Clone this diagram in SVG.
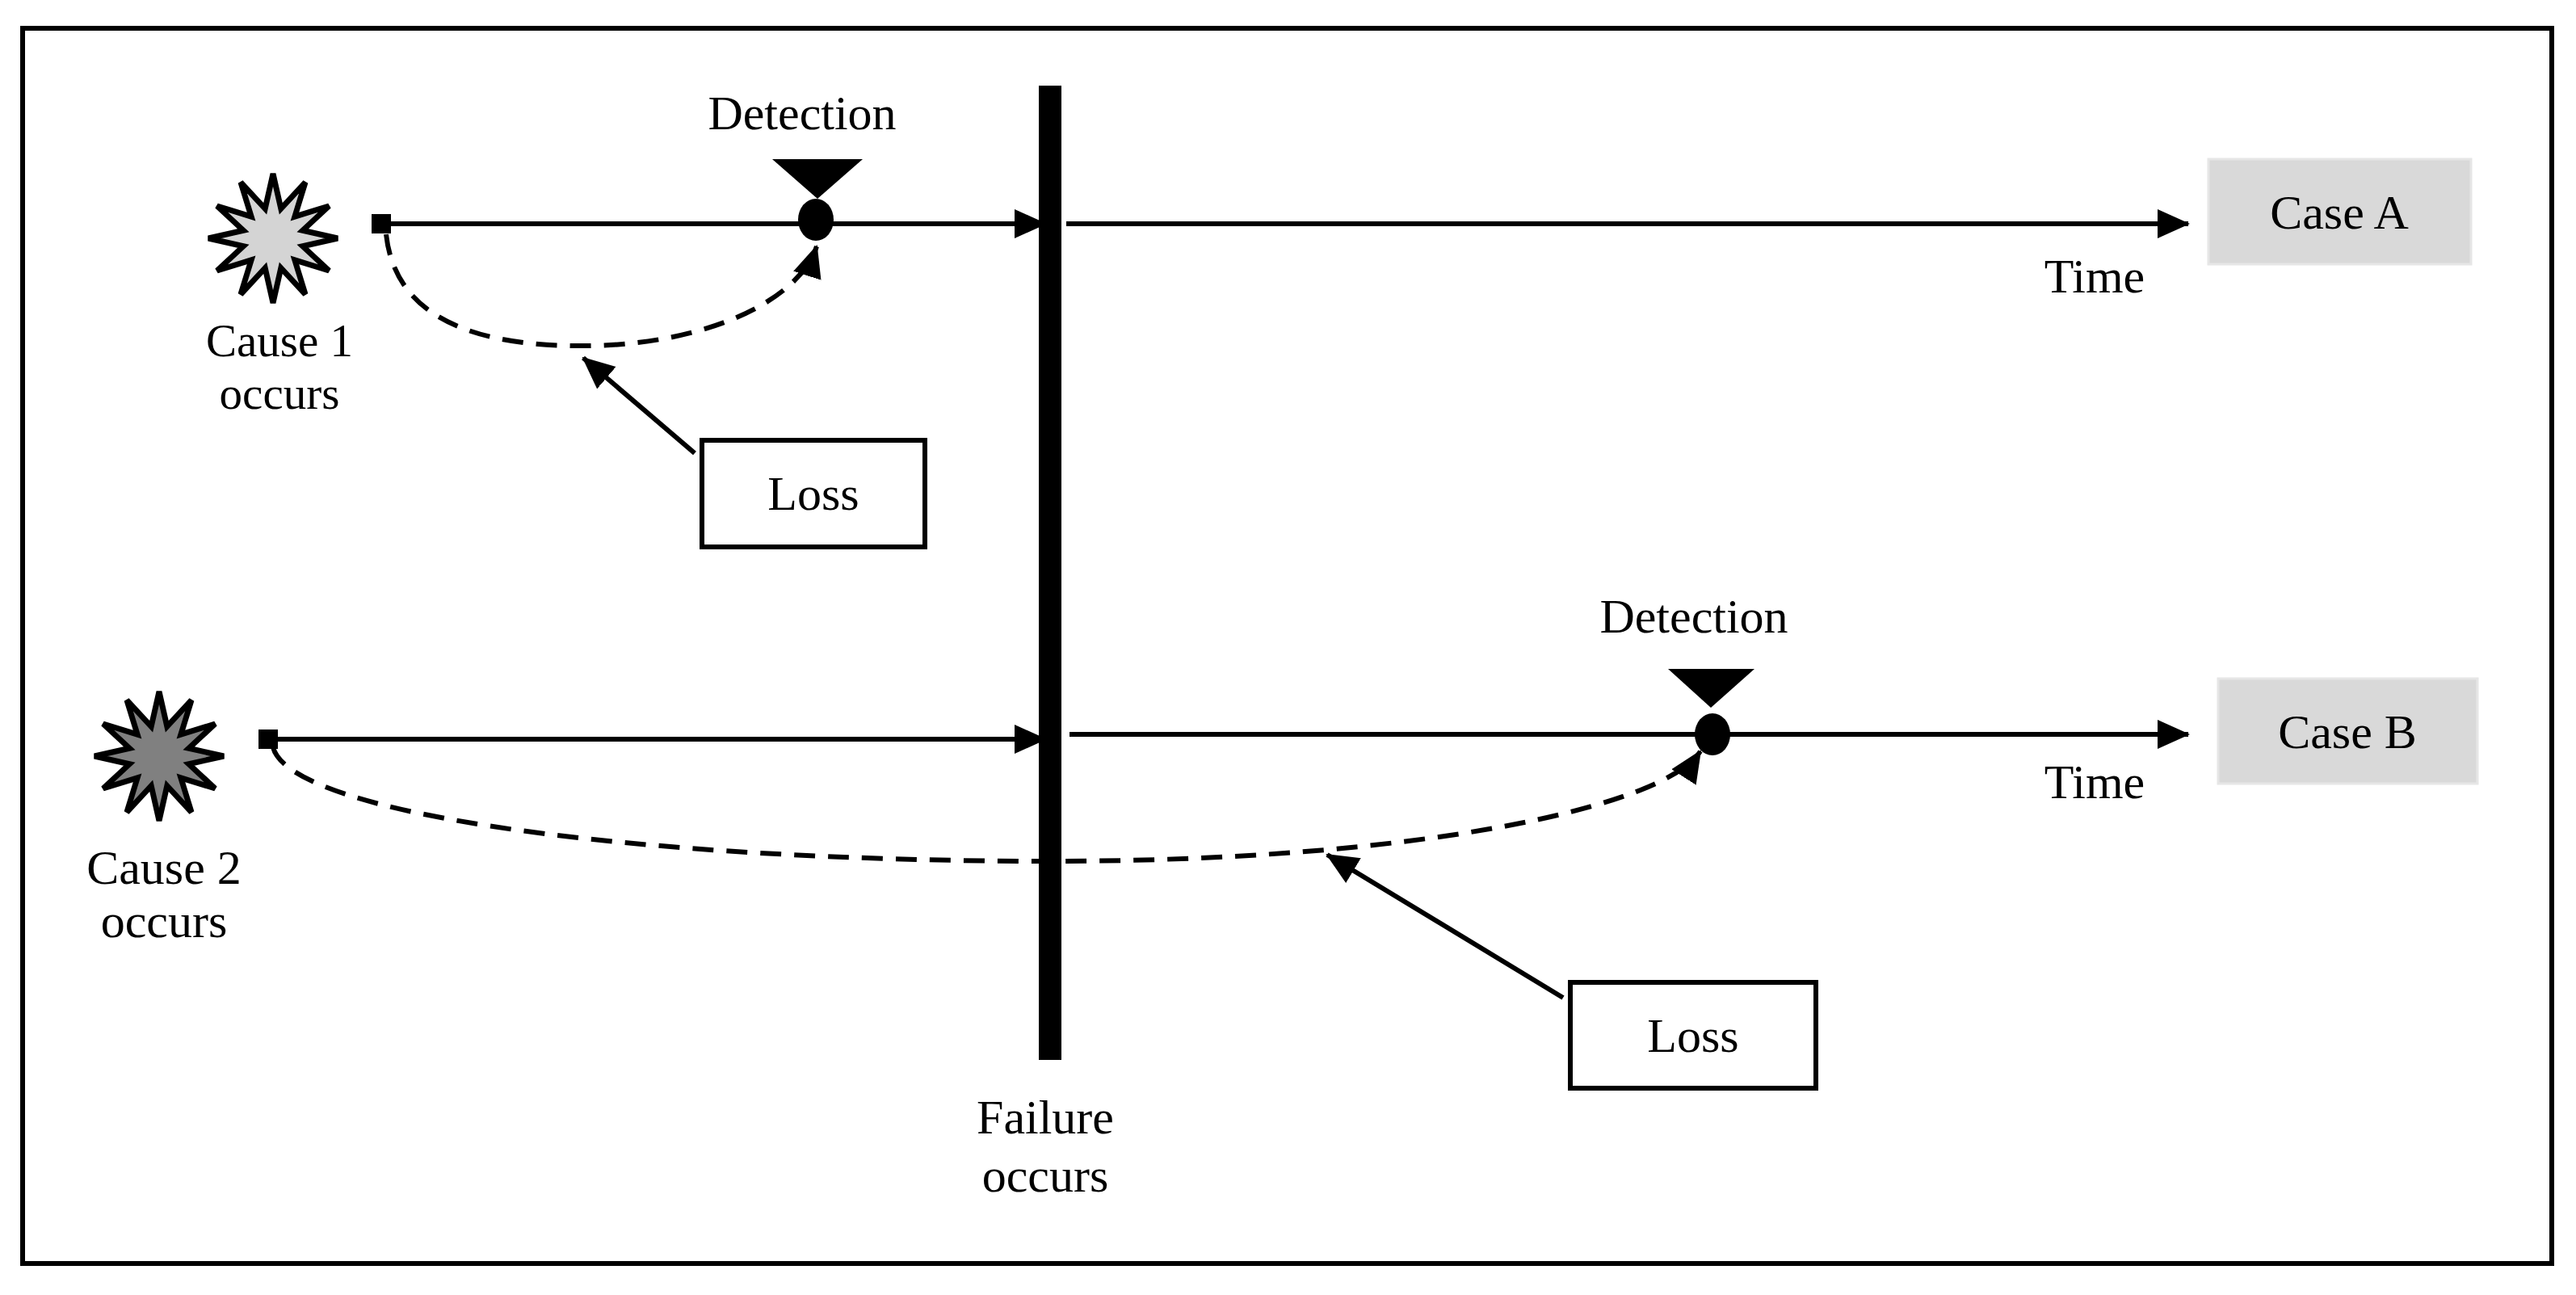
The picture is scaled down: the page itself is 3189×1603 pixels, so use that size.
<svg xmlns="http://www.w3.org/2000/svg" width="3189" height="1603" viewBox="0 0 3189 1603">
<style>
text{font-family:"Liberation Serif","DejaVu Serif",serif;font-size:60px;fill:#000;text-anchor:middle}
.ln{stroke:#000;stroke-width:6;fill:none}
.dash{stroke:#000;stroke-width:6;fill:none;stroke-dasharray:26 16}
.box{fill:#fff;stroke:#000;stroke-width:6}
.case{fill:#d9d9d9;stroke:#e6e6e6;stroke-width:3}
</style>
<defs>
<marker id="ah" markerUnits="userSpaceOnUse" markerWidth="40" markerHeight="40" refX="38" refY="20" orient="auto"><path d="M0,2 L40,20 L0,38 Z" fill="#000"/></marker>
<polygon id="star" points="0,-80 9.8,-36.7 40,-69.3 26.9,-26.9 69.3,-40 36.7,-9.8 80,0 36.7,9.8 69.3,40 26.9,26.9 40,69.3 9.8,36.7 0,80 -9.8,36.7 -40,69.3 -26.9,26.9 -69.3,40 -36.7,9.8 -80,0 -36.7,-9.8 -69.3,-40 -26.9,-26.9 -40,-69.3 -9.8,-36.7" stroke="#000" stroke-width="7"/>
</defs>
<rect x="28" y="35" width="3131" height="1529" fill="none" stroke="#000" stroke-width="6"/>
<g id="connectors">
<line class="ln" x1="472" y1="277" x2="1294" y2="277" marker-end="url(#ah)"/>
<line class="ln" x1="1320" y1="277" x2="2709" y2="277" marker-end="url(#ah)"/>
<line class="ln" x1="326" y1="915" x2="1294" y2="915" marker-end="url(#ah)"/>
<line class="ln" x1="1324" y1="909" x2="2709" y2="909" marker-end="url(#ah)"/>
<path class="dash" d="M478,290 C490,400 600,430 732,428 C880,425 990,370 1011,305" marker-end="url(#ah)"/>
<path class="dash" d="M338,925 C360,1010 800,1066 1300,1066 C1750,1066 2060,1000 2105,930" marker-end="url(#ah)"/>
<line class="ln" x1="860" y1="561" x2="722" y2="443" marker-end="url(#ah)"/>
<line class="ln" x1="1935" y1="1235" x2="1643" y2="1058" marker-end="url(#ah)"/>
</g>
<g id="failure"><rect x="1286" y="106" width="28" height="1206" fill="#000"/><text x="1294" y="1403">Failure</text><text x="1294" y="1475">occurs</text></g>
<g id="cause1"><use href="#star" transform="translate(338,295)" fill="#d4d4d4"/><rect x="460" y="265" width="24" height="24" fill="#000"/><text x="346" y="441" style="font-size:57px">Cause 1</text><text x="346" y="506" style="font-size:57px">occurs</text></g>
<g id="cause2"><use href="#star" transform="translate(197,936)" fill="#808080"/><rect x="320" y="903" width="24" height="24" fill="#000"/><text x="203" y="1094">Cause 2</text><text x="203" y="1160">occurs</text></g>
<g id="detA"><polygon points="956,197 1068,197 1012,246" fill="#000"/><ellipse cx="1010" cy="272" rx="22" ry="26" fill="#000"/><text x="993" y="160">Detection</text></g>
<g id="detB"><polygon points="2065,828 2172,828 2118,876" fill="#000"/><ellipse cx="2120" cy="909" rx="22" ry="26" fill="#000"/><text x="2097" y="783">Detection</text></g>
<g id="caseA"><rect class="case" x="2734" y="197" width="325" height="130"/><text x="2896" y="283">Case A</text><text x="2593" y="362">Time</text></g>
<g id="caseB"><rect class="case" x="2746" y="840" width="321" height="130"/><text x="2906" y="926">Case B</text><text x="2593" y="988">Time</text></g>
<g id="lossA"><rect class="box" x="869" y="545" width="276" height="132"/><text x="1007" y="631">Loss</text></g>
<g id="lossB"><rect class="box" x="1944" y="1216" width="304" height="131"/><text x="2096" y="1302">Loss</text></g>
</svg>
